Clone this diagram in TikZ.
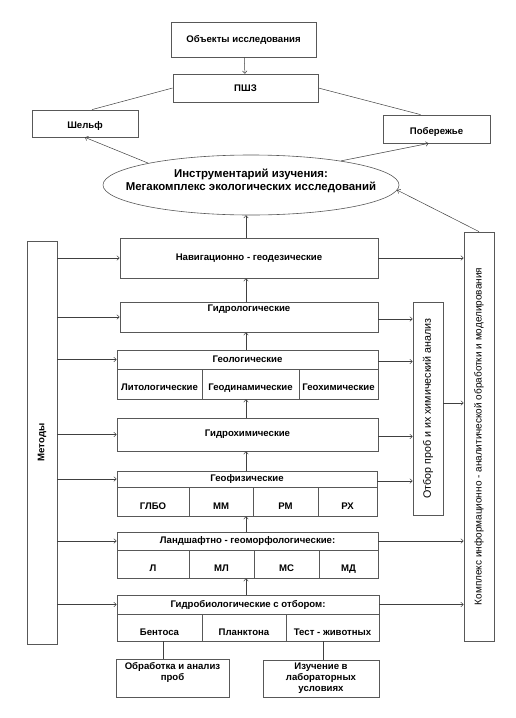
\documentclass[tikz,border=0pt]{standalone}
\usepackage{fontspec}
\setmainfont{Liberation Sans}
\usetikzlibrary{arrows.meta,shapes.geometric,calc}
\definecolor{rama}{HTML}{585858}
\definecolor{flecha}{HTML}{404040}
\tikzset{
  txt/.style={font=\bfseries\fontsize{9.6}{11}\selectfont, inner sep=0pt, align=center},
  vtxt/.style={font=\fontsize{10}{12}\selectfont, inner sep=0pt, rotate=90},
  caja/.style={txt, draw=rama, line width=0.8pt},
  celda/.style={caja, text depth=0pt},
  flujo/.style={draw=flecha, line width=0.5pt, -{To[length=3pt,width=5pt]}},
  liga/.style={draw=flecha, line width=0.5pt},
}
\begin{document}
\begin{tikzpicture}[x=1pt,y=-1pt]
    \useasboundingbox (0,0) rectangle (515,718);

    \node[caja, minimum width=145, minimum height=35] (obj) at (243.5,39.5) {Объекты исследования};
    \node[caja, minimum width=145, minimum height=28] (pshz) at (245.5,88) {ПШЗ};
    \node[caja, minimum width=106, minimum height=27, text height=10pt, text depth=0pt] (shelf) at (85,123.5) {Шельф};
    \node[caja, minimum width=107, minimum height=28, text height=10pt, text depth=0pt] (coast) at (436.5,129) {Побережье};
    \node[ellipse, draw=rama, line width=0.6pt, minimum width=296, minimum height=60, inner sep=0pt] (ell) at (251,185) {};
    \node[txt, font=\bfseries\fontsize{11.4}{13}\selectfont, yshift=4pt] (ellT) at (ell.center)
      {Инструментарий изучения:\\Мегакомплекс экологических исследований};

    \node[caja, minimum width=30, minimum height=403] (met) at (42,442.5) {};
    \node[txt, rotate=90] at (met) {Методы};
    \node[caja, minimum width=30, minimum height=409] (compl) at (479,436.5) {};
    \node[vtxt] at (compl) {Комплекс информационно - аналитической обработки и моделирования};
    \node[caja, minimum width=30, minimum height=213] (otbor) at (428,408.5) {};
    \node[vtxt, font=\fontsize{10.7}{12}\selectfont] at (otbor) {Отбор проб и их химический анализ};

    \node[caja, minimum width=258, minimum height=40] (nav) at (249,258) {Навигационно - геодезические};
    \node[caja, minimum width=258, minimum height=30] (hydrol) at (249,317) {};
    \node[txt, anchor=north] at ($(hydrol.north)+(0,3.5)$) {Гидрологические};

    \node[caja, minimum width=261, minimum height=19] (geol) at (247.5,359.5) {Геологические};
    \foreach \n/\a/\b/\t in {1/117/202/Литологические, 2/202/299/Геодинамические, 3/299/378/Геохимические}{
      \node[celda, minimum width={\b-\a}, minimum height=30, text height=13pt] (geol\n) at ({(\a+\b)/2},384) {\t};
    }
    \node[caja, minimum width=261, minimum height=33] (hchem) at (247.5,434.5) {Гидрохимические};

    \node[caja, minimum width=260, minimum height=16] (geoph) at (247,479) {Геофизические};
    \foreach \n/\a/\b/\t in {1/117/189/ГЛБО, 2/189/253/ММ, 3/253/318/РМ, 4/318/377/РХ}{
      \node[celda, minimum width={\b-\a}, minimum height=29, text height=16pt] (geoph\n) at ({(\a+\b)/2},501.5) {\t};
    }

    \node[caja, minimum width=261, minimum height=18] (land) at (247.5,541) {Ландшафтно - геоморфологические:};
    \foreach \n/\a/\b/\t in {1/117/189/Л, 2/189/254/МЛ, 3/254/319/МС, 4/319/378/МД}{
      \node[celda, minimum width={\b-\a}, minimum height=28, text height=15pt] (land\n) at ({(\a+\b)/2},564) {\t};
    }

    \node[caja, minimum width=262, minimum height=19] (hbio) at (248,604.5) {Гидробиологические с отбором:};
    \foreach \n/\a/\b/\t in {1/117/202/Бентоса, 2/202/286/Планктона, 3/286/379/Тест - животных}{
      \node[celda, minimum width={\b-\a}, minimum height=27, text height=16pt] (hbio\n) at ({(\a+\b)/2},627.5) {\t};
    }

    \node[caja, minimum width=113, minimum height=38] (proc) at (172.5,678) {};
    \node[txt, anchor=north] at ($(proc.north)+(0,3.5)$) {Обработка и анализ\\проб};
    \node[caja, minimum width=116, minimum height=37] (lab) at (321,678.5) {Изучение в\\лабораторных\\условиях};

    \draw[flujo] (obj) -- (pshz);
    \draw[liga] (pshz.west) -- ($(shelf.north)+(7,0)$);
    \draw[liga] (pshz.east) -- ($(coast.north)+(-16,0)$);
    \draw[flujo] (ell.168) -- (shelf.south);
    \draw[flujo] (ell.15) -- ($(coast.south)+(-8,0)$);
    \draw[flujo] (compl.north) -- (ell.-2);

    \coordinate (eje) at (246,0);
    \foreach \a/\b in {nav/ell, hydrol/nav, geol/hydrol, hchem/geol2, geoph/hchem, land/geoph2, hbio/land2}{
      \draw[flujo] (\a.north -| eje) -- (\b.south -| eje);
    }
    \foreach \b in {nav,hydrol,geol,hchem,geoph,land,hbio}{
      \draw[flujo] (met.east |- \b.west) -- (\b.west);
    }
    \foreach \b in {nav,land,hbio}{
      \draw[flujo] (\b.east) -- (compl.west |- \b.east);
    }
    \foreach \b in {hydrol,geol,hchem,geoph}{
      \coordinate (o\b) at ($(\b.east)+(0,2)$);
      \draw[flujo] (o\b) -- (otbor.west |- o\b);
    }
    \coordinate (oc) at ($(otbor.east)+(0,-5.5)$);
    \draw[flujo] (oc) -- (compl.west |- oc);

    \coordinate (bent) at ($(hbio1.south)+(3.5,0)$);
    \coordinate (test) at ($(hbio3.south)+(-9.5,0)$);
    \draw[liga] (bent) -- (bent |- proc.north);
    \draw[liga] (test) -- (test |- lab.north);
  \end{tikzpicture}
\end{document}
